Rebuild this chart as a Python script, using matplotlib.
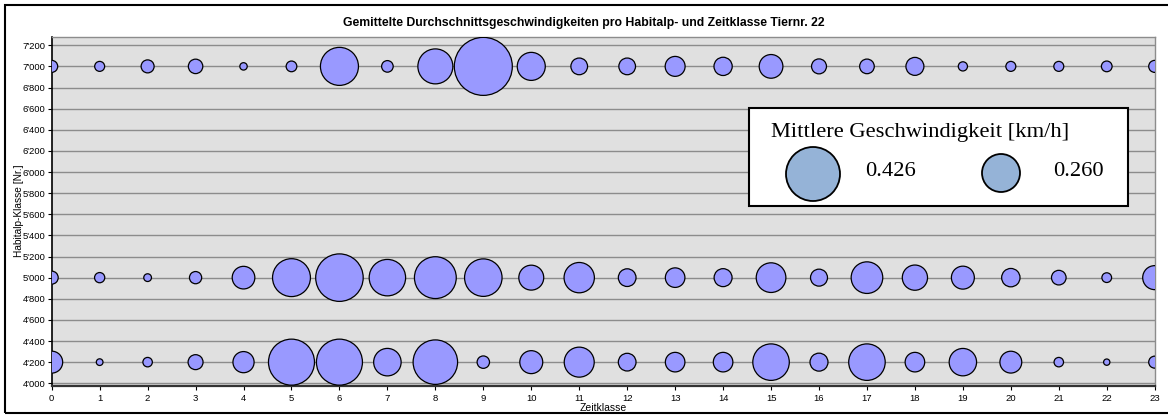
import matplotlib
matplotlib.use("Agg")
import matplotlib.pyplot as plt
from matplotlib.patches import Rectangle, Ellipse
from matplotlib.ticker import FuncFormatter, MultipleLocator

# ---------------- data ----------------
zeitklassen = list(range(24))
habitalp_klassen = [7000, 5000, 4200]
speed_7000 = [0.029, 0.020, 0.034, 0.042, 0.011, 0.023, 0.291, 0.027, 0.246, 0.677,
              0.158, 0.056, 0.056, 0.080, 0.067, 0.113, 0.045, 0.043, 0.065, 0.017,
              0.020, 0.020, 0.023, 0.029]
speed_5000 = [0.034, 0.021, 0.012, 0.030, 0.103, 0.289, 0.454, 0.267, 0.352, 0.283,
              0.125, 0.185, 0.063, 0.077, 0.065, 0.177, 0.058, 0.201, 0.128, 0.106,
              0.068, 0.043, 0.019, 0.116]
speed_4200 = [0.097, 0.009, 0.018, 0.045, 0.090, 0.426, 0.426, 0.152, 0.398, 0.031,
              0.106, 0.181, 0.063, 0.077, 0.077, 0.268, 0.065, 0.268, 0.077, 0.151,
              0.096, 0.018, 0.008, 0.029]
speeds = [speed_7000, speed_5000, speed_4200]
legend_values = [0.426, 0.260]

title = "Gemittelte Durchschnittsgeschwindigkeiten pro Habitalp- und Zeitklasse Tiernr. 22"
xlabel = "Zeitklasse"
ylabel = "Habitalp-Klasse [Nr.]"
legend_title = "Mittlere Geschwindigkeit [km/h]"

# ---------------- figure ----------------
W, H, DPI = 1168, 416, 100
fig = plt.figure(figsize=(W / DPI, H / DPI), dpi=DPI)
plt.rcParams['font.family'] = ['Liberation Sans', 'DejaVu Sans']

def fx(px):
    return px / W

def fy(py):
    return 1 - py / H

ax_l, ax_r, ax_t, ax_b = 51.7, 1154.7, 36.7, 385.7
ax = fig.add_axes([fx(ax_l), fy(ax_b), fx(ax_r - ax_l), (ax_b - ax_t) / H])
ax.set_facecolor('#E0E0E0')

PX_PER_SQRT = 70.5          # bubble diameter (px) per sqrt(km/h)
pt_per_px = 72 / DPI
for yk, sp in zip(habitalp_klassen, speeds):
    sizes = [(PX_PER_SQRT * pt_per_px) ** 2 * v for v in sp]
    ax.scatter(zeitklassen, [yk] * len(zeitklassen), s=sizes, c='#9999FF',
               edgecolors='black', linewidths=0.9, zorder=3)

ax.set_xlim(0, 23)
ax.set_ylim(3977, 7281)
ax.xaxis.set_major_locator(MultipleLocator(1))
ax.yaxis.set_major_locator(MultipleLocator(200))
ax.yaxis.set_major_formatter(FuncFormatter(lambda v, p: f"{int(round(v)):,}".replace(',', "'")))
ax.grid(axis='y', color='#8C8C8C', linewidth=1.0, zorder=1)
ax.set_axisbelow(True)

for s in ['top', 'right']:
    ax.spines[s].set_color('#8C8C8C')
    ax.spines[s].set_linewidth(1.0)
ax.spines['left'].set_color('black')
ax.spines['left'].set_linewidth(1.2)
ax.spines['bottom'].set_color('#333333')
ax.spines['bottom'].set_linewidth(1.6)

ax.tick_params(axis='both', labelsize=6.8, length=3, width=0.8, pad=1.5, colors='black')
ax.tick_params(axis='x', pad=3)

ax.set_xlabel(xlabel, fontsize=7.5, labelpad=0)
ax.set_ylabel(ylabel, fontsize=7.3, labelpad=0)
ax.yaxis.set_label_coords((24 - ax_l) / (ax_r - ax_l), 0.5)

fig.text(fx(584), fy(23), title, ha='center', va='center', fontsize=8.8, fontweight='bold')

# outer border
fig.add_artist(Rectangle((fx(5), fy(413)), fx(1180 - 5), (413 - 5) / H,
                         transform=fig.transFigure, fill=False, ec='black', lw=1.5, zorder=0.5))

# legend box
serif = ['Liberation Serif', 'DejaVu Serif']
fig.add_artist(Rectangle((fx(749), fy(206)), fx(1128 - 749), (206 - 108) / H,
                         transform=fig.transFigure, fc='white', ec='black', lw=1.5, zorder=5))
fig.text(fx(771), fy(133), legend_title, ha='left', va='center', fontsize=16.2,
         family=serif, zorder=6)
fig.add_artist(Ellipse((fx(813), fy(174)), fx(54), 54 / H, transform=fig.transFigure,
                       fc='#95B3D7', ec='black', lw=1.3, zorder=6))
fig.add_artist(Ellipse((fx(1001), fy(173)), fx(38), 38 / H, transform=fig.transFigure,
                       fc='#95B3D7', ec='black', lw=1.3, zorder=6))
fig.text(fx(890), fy(172), f"{legend_values[0]:.3f}", ha='center', va='center', fontsize=16.2,
         family=serif, zorder=6)
fig.text(fx(1078), fy(172), f"{legend_values[1]:.3f}", ha='center', va='center', fontsize=16.2,
         family=serif, zorder=6)

fig.savefig('out.png', dpi=DPI)
